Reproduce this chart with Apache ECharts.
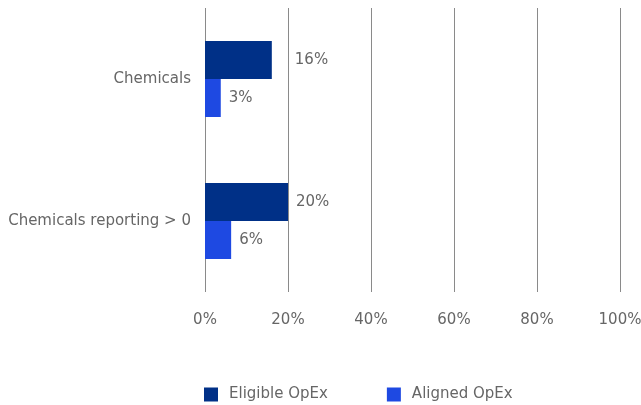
<!DOCTYPE html>
<html>
<head>
<meta charset="utf-8">
<script src="https://cdn.jsdelivr.net/npm/echarts@6/dist/echarts.min.js"></script>
<style>
  html, body { margin: 0; padding: 0; background: #fff; }
  #chart { width: 641px; height: 405px; }
</style>
</head>
<body>
<div id="chart"></div>
<script>
// categories top to bottom
var categories = ['Chemicals', 'Chemicals reporting > 0'];
var eligibleOpEx = [16.1, 20];
var alignedOpEx = [3.8, 6.3];
var xTicks = [0, 20, 40, 60, 80, 100];

var textColor = '#666666';
var fontName = 'DejaVu Sans';

function pct(p) { return Math.floor(p.value) + '%'; }

var myChart = echarts.init(document.getElementById('chart'));
var option = {
    animation: false,
    grid: { left: 205, right: 21, top: 8, bottom: 113, containLabel: false, outerBoundsMode: 'none' },
    legend: {
        bottom: 3,
        left: 204,
        padding: 0,
        itemWidth: 14,
        itemHeight: 14,
        itemGap: 59,
        icon: 'rect',
        textStyle: { color: textColor, fontFamily: fontName, fontSize: 15, padding: [0, 0, 0, 6] },
        data: ['Eligible OpEx', 'Aligned OpEx']
    },
    xAxis: {
        type: 'value',
        min: xTicks[0],
        max: xTicks[xTicks.length - 1],
        interval: 20,
        axisLine: { show: false },
        axisTick: { show: false },
        axisLabel: { color: textColor, fontFamily: fontName, fontSize: 15, margin: 21, formatter: '{value}%' },
        splitLine: { show: true, lineStyle: { color: '#8a8a8a', width: 1 } }
    },
    yAxis: {
        type: 'category',
        inverse: true,
        data: categories,
        axisLine: { show: false },
        axisTick: { show: false },
        axisLabel: { color: textColor, fontFamily: fontName, fontSize: 15, margin: 14 }
    },
    series: [
        {
            name: 'Eligible OpEx',
            type: 'bar',
            barWidth: 38,
            barGap: '0%',
            itemStyle: { color: '#003087' },
            label: {
                show: true, position: 'right', distance: 8,
                color: textColor, fontFamily: fontName, fontSize: 15, formatter: pct
            },
            data: eligibleOpEx.map(function (v, i) {
                return i === 0 ? { value: v, label: { offset: [15, 0] } } : v;
            })
        },
        {
            name: 'Aligned OpEx',
            type: 'bar',
            barWidth: 38,
            itemStyle: { color: '#1e49e2' },
            label: {
                show: true, position: 'right', distance: 8,
                color: textColor, fontFamily: fontName, fontSize: 15, formatter: pct
            },
            data: alignedOpEx
        }
    ]
};
myChart.setOption(option);
</script>
</body>
</html>
